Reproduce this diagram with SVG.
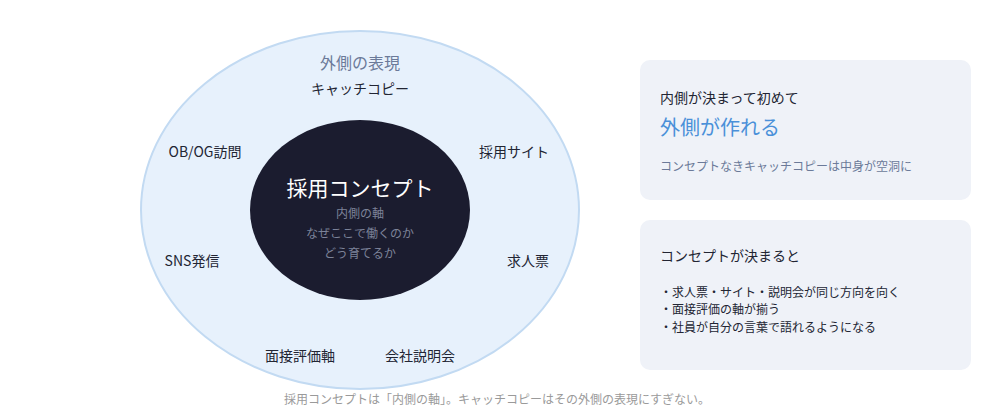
<svg xmlns="http://www.w3.org/2000/svg" width="1000" height="420" viewBox="0 0 1000 420">
<style>
text { font-family: "Noto Sans CJK JP", "Noto Sans", sans-serif; }
.lbl { font-size: 14px; fill: #222533; text-anchor: middle; }
.inner { font-size: 12px; fill: #7d8399; text-anchor: middle; }
.panel { fill: #eff2f8; }
.ptext { font-size: 14px; fill: #222533; }
.pbul { font-size: 12px; fill: #222533; }
</style>
<rect width="1000" height="420" fill="#ffffff"/>
<g id="outer">
<ellipse cx="360" cy="210" rx="219" ry="179" fill="#e7f1fc" stroke="#c2daf2" stroke-width="2"/>
<text x="360" y="69" text-anchor="middle" font-size="16" fill="#6b7a99">外側の表現</text>
</g>
<g id="n-catch"><text class="lbl" x="360" y="94">キャッチコピー</text></g>
<g id="n-obog"><text class="lbl" x="205" y="157">OB/OG訪問</text></g>
<g id="n-site"><text class="lbl" x="514" y="157">採用サイト</text></g>
<g id="n-sns"><text class="lbl" x="192" y="266">SNS発信</text></g>
<g id="n-kyujin"><text class="lbl" x="528" y="266">求人票</text></g>
<g id="n-mensetsu"><text class="lbl" x="300" y="361">面接評価軸</text></g>
<g id="n-setsumei"><text class="lbl" x="420" y="361">会社説明会</text></g>
<g id="core">
<ellipse cx="360" cy="210" rx="110" ry="90" fill="#1b1c2f"/>
<text x="360" y="196" text-anchor="middle" font-size="21" fill="#ffffff">採用コンセプト</text>
<text class="inner" x="360" y="218">内側の軸</text>
<text class="inner" x="360" y="238">なぜここで働くのか</text>
<text class="inner" x="360" y="258">どう育てるか</text>
</g>
<g id="connectors"></g>
<g id="panel1">
<rect class="panel" x="640" y="60" width="331" height="140" rx="10"/>
<text class="ptext" x="660" y="103">内側が決まって初めて</text>
<text x="660" y="135" font-size="20" fill="#4a90d9">外側が作れる</text>
<text x="660" y="171" font-size="12" fill="#6b7a99">コンセプトなきキャッチコピーは中身が空洞に</text>
</g>
<g id="panel2">
<rect class="panel" x="640" y="220" width="331" height="150" rx="10"/>
<text class="ptext" x="660" y="261">コンセプトが決まると</text>
<text class="pbul" x="660" y="297">・求人票・サイト・説明会が同じ方向を向く</text>
<text class="pbul" x="660" y="314">・面接評価の軸が揃う</text>
<text class="pbul" x="660" y="332">・社員が自分の言葉で語れるようになる</text>
</g>
<g id="footer">
<text x="497" y="404" text-anchor="middle" font-size="12" fill="#9a9a9a">採用コンセプトは「内側の軸」。キャッチコピーはその外側の表現にすぎない。</text>
</g>
</svg>
